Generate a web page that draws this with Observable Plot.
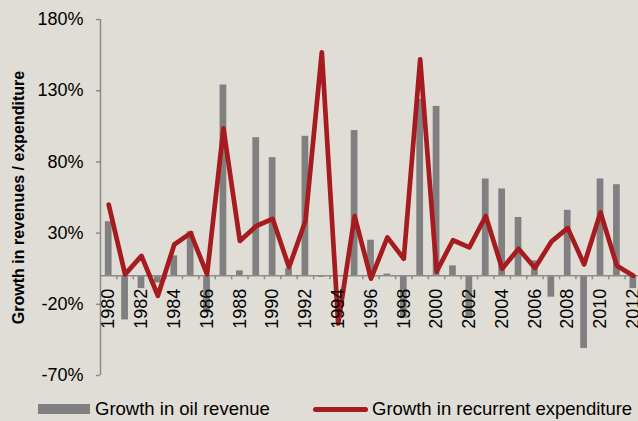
<!DOCTYPE html>
<html><head><meta charset="utf-8">
<script src="https://cdn.jsdelivr.net/npm/d3@7"></script>
<script src="https://cdn.jsdelivr.net/npm/@observablehq/plot@0.6"></script>
<style>
html,body{margin:0;padding:0;background:#dfddd5;}
#chart{width:638px;height:421px;position:relative;overflow:hidden;font-family:"Liberation Sans",Arial,sans-serif;color:#000;}
#chart svg{display:block;}
.legend{position:absolute;left:0;top:392px;width:638px;height:29px;font-size:18.5px;}
.legend span{position:absolute;line-height:20px;white-space:nowrap;}
.sw-bar{position:absolute;background:#808080;}
.sw-line{position:absolute;background:#a51b1f;border-radius:3px;}
</style></head><body>
<div id="chart"></div>
<script>
const years = [1980,1981,1982,1983,1984,1985,1986,1987,1988,1989,1990,1991,1992,1993,1994,1995,1996,1997,1998,1999,2000,2001,2002,2003,2004,2005,2006,2007,2008,2009,2010,2011,2012];
const oilRevenue = [38,-31,-9,-5,14,31,-26,134,3.5,97,83,5,98,-1,0,102,25,1.2,-30,124,119,7,-30,68,61,41,10.5,-15,46,-51,68,64,-9];
const recurrentExpenditure = [50,1,14,-14,22,30,1,103.5,24.5,35,40,6,38.5,157,-33.5,42,-2,27,12,152,3,25,20,42,5,19,5.5,24,33.5,8,44.5,7,0];
const yTicks = [-70,-20,30,80,130,180];
const xLabels = [1980,1982,1984,1986,1988,1990,1992,1994,1996,1998,2000,2002,2004,2006,2008,2010,2012];
const seriesNames = ["Growth in oil revenue","Growth in recurrent expenditure"];
const yTitle = "Growth in revenues / expenditure";

const W = 638, H = 392, mL = 100, mR = -3, mT = 19, mB = 17;
const step = (W - mL - mR) / years.length;
const font = '"Liberation Sans", Arial, sans-serif';
const data = years.map((year, i) => ({year, oil: oilRevenue[i], exp: recurrentExpenditure[i]}));
const yMin = d3.min(yTicks), yMax = d3.max(yTicks);

const chart = Plot.plot({
  width: W, height: H,
  marginLeft: mL, marginRight: mR, marginTop: mT, marginBottom: mB,
  style: {background: "transparent", fontFamily: font, fontSize: "18px", color: "#000", overflow: "visible"},
  x: {type: "band", domain: years, paddingInner: 0.59, paddingOuter: 0.295, round: false, axis: null},
  y: {domain: [yMin, yMax], axis: null},
  marks: [
    Plot.barY(data, {x: "year", y: "oil", fill: "#808080"}),
    Plot.ruleY([0], {stroke: "#8c8c8c", strokeWidth: 1.5}),
    Plot.ruleX(years.slice(1), {x: d => d, y1: 0, y2: 0, insetBottom: -4, dx: -step / 2, stroke: "#8c8c8c", strokeWidth: 1.5}),
    Plot.ruleX([years[0]], {x: d => d, y1: yMin, y2: yMax, dx: -step / 2, stroke: "#8c8c8c", strokeWidth: 1.5}),
    Plot.axisY(yTicks, {tickSize: 4, tickPadding: 13, tickFormat: d => d + "%", stroke: "#8c8c8c", strokeWidth: 1.5, fontSize: 18, label: null}),
    Plot.line(data, {x: "year", y: "exp", stroke: "#a51b1f", strokeWidth: 4.7, strokeLinejoin: "round", strokeLinecap: "round"}),
    Plot.text(xLabels, {x: d => d, y: 0, text: d => String(d), rotate: -90, textAnchor: "end", lineAnchor: "middle", dy: 13, fontSize: 18, fill: "#000"}),
    Plot.text([yTitle], {frameAnchor: "left", rotate: -90, dx: -82, textAnchor: "middle", lineAnchor: "middle", fontWeight: "bold", fontSize: 16, fill: "#000"})
  ]
});
const root = document.getElementById("chart");
root.appendChild(chart);

const legend = document.createElement("div");
legend.className = "legend";
legend.innerHTML =
  `<div class="sw-bar" style="left:38px;top:12px;width:52px;height:10px"></div>` +
  `<span style="left:95px;top:7px">${seriesNames[0]}</span>` +
  `<div class="sw-line" style="left:313px;top:15px;width:55px;height:4.5px"></div>` +
  `<span style="left:372px;top:7px">${seriesNames[1]}</span>`;
root.appendChild(legend);
</script>
</body></html>
